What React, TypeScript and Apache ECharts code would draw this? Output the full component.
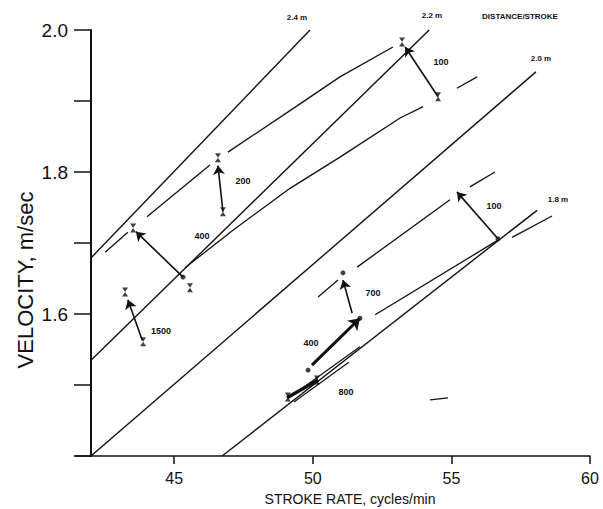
import React, { useEffect, useRef } from "react";
import * as echarts from "echarts";

type P = [number, number];

// axis ticks
const xTickValues = [45, 50, 55, 60];
const yLabelValues = ["1.6", "1.8", "2.0"];

// lines of constant distance per stroke
const iso24: P[] = [[42, 1.679], [49.9, 2.0]];
const iso22: P[] = [[42, 1.535], [54.2, 2.0]];
const iso20: P[] = [[42, 1.4], [58.05, 1.941]];
const iso18: P[] = [[46.73, 1.4], [58.09, 1.746]];

// upper group curves (segments, broken at markers)
const upperCurveA: P[][] = [
  [[42.51, 1.687], [43.33, 1.715]],
  [[44.02, 1.737], [46.29, 1.81]],
  [[46.94, 1.828], [49.54, 1.896], [50.98, 1.934], [52.89, 1.976]],
];
const upperCurveB: P[][] = [
  [[45.39, 1.665], [47.12, 1.718], [49.18, 1.777], [50.98, 1.821], [53.15, 1.876], [53.98, 1.892]],
  [[55.2, 1.918], [55.93, 1.934]],
];

// lower group curves
const lowerCurveA: P[][] = [
  [[50.19, 1.624], [50.91, 1.648]],
  [[51.6, 1.666], [54.95, 1.761]],
  [[55.67, 1.779], [56.57, 1.8]],
];
const lowerCurveB: P[][] = [
  [[52.25, 1.599], [56.68, 1.704]],
  [[57.19, 1.708], [58.63, 1.738]],
];
const lower800: P[][] = [
  [[49.18, 1.483], [51.7, 1.554]],
  [[49.32, 1.476], [51.3, 1.532]],
  [[54.23, 1.479], [54.88, 1.482]],
];
const lower800Thick: P[][] = [[[49.07, 1.482], [50.19, 1.507]]];

// arrows [from, to]
const upperArrows: P[][] = [
  [[45.32, 1.652], [43.62, 1.716]], // 400
  [[46.76, 1.744], [46.58, 1.809]], // 200
  [[54.52, 1.906], [53.33, 1.976]], // 100
  [[43.85, 1.563], [43.33, 1.62]], // 1500
];
const lowerArrows: P[][] = [
  [[51.42, 1.601], [51.09, 1.648]], // 700
  [[56.68, 1.706], [55.2, 1.772]], // 100
];
const lowerThickArrows: P[][] = [
  [[49.97, 1.528], [51.7, 1.594]], // 400
];

// markers
const crossMarkers: P[] = [
  [43.52, 1.721], [46.58, 1.82], [46.76, 1.744], [53.22, 1.983],
  [54.52, 1.906], [43.23, 1.631], [43.88, 1.561], [45.57, 1.637],
  [49.1, 1.483], [50.15, 1.507],
];
const dotMarkers: P[] = [
  [45.32, 1.652], [51.09, 1.658], [56.68, 1.706], [49.83, 1.521], [51.7, 1.594],
];

// annotations
const isoLabels = ["2.4 m", "2.2 m", "DISTANCE/STROKE", "2.0 m", "1.8 m"];
const eventLabels = ["100", "200", "400", "1500", "100", "700", "400", "800"];

const HOURGLASS = "path://M0,0L10,0L0,14L10,14Z";
const INK = "#111";

export default function App() {
  const ref = useRef<HTMLDivElement>(null);

  useEffect(() => {
    document.body.style.margin = "0";
    if (!ref.current) return;
    const chart = echarts.init(ref.current, undefined, { renderer: "svg" });

    const seg = (data: P[], width = 1.3) => ({
      type: "line",
      data,
      symbol: "none",
      showSymbol: false,
      silent: true,
      clip: false,
      lineStyle: { color: INK, width },
      z: 2,
    });

    const arrows = (list: P[][], width: number, size: number[]) => ({
      type: "lines",
      coordinateSystem: "cartesian2d",
      symbol: ["none", "arrow"],
      symbolSize: size,
      silent: true,
      lineStyle: { color: INK, width, opacity: 1 },
      data: list.map((c) => ({ coords: c })),
      z: 3,
    });

    const series: any[] = [
      seg(iso24, 1.4),
      seg(iso22, 1.4),
      seg(iso20, 1.4),
      seg(iso18, 1.4),
      ...upperCurveA.map((s) => seg(s)),
      ...upperCurveB.map((s) => seg(s)),
      ...lowerCurveA.map((s) => seg(s)),
      ...lowerCurveB.map((s) => seg(s)),
      ...lower800.map((s) => seg(s, 1.2)),
      ...lower800Thick.map((s) => seg(s, 3.5)),
      arrows(upperArrows, 1.6, [7, 9]),
      arrows(lowerArrows, 1.6, [7, 9]),
      arrows(lowerThickArrows, 3, [9, 11]),
      {
        type: "scatter",
        data: crossMarkers,
        symbol: HOURGLASS,
        symbolSize: [6, 9],
        itemStyle: { color: INK },
        silent: true,
        z: 4,
      },
      {
        type: "scatter",
        data: dotMarkers,
        symbol: "circle",
        symbolSize: 5,
        itemStyle: { color: INK },
        silent: true,
        z: 4,
      },
    ];

    const small = (text: string, x: number, y: number, size = 8) => ({
      type: "text",
      x,
      y,
      silent: true,
      style: {
        text,
        fill: INK,
        font: `bold ${size}px "Liberation Sans", sans-serif`,
        textAlign: "center",
        textVerticalAlign: "middle",
      },
    });

    const isoPos = [[297, 17], [432, 15], [520, 16], [541, 58], [558, 199]];
    const evPos = [[441, 62], [243, 181], [202, 236], [161, 331], [494, 206], [373, 293], [311, 343], [346, 392]];

    chart.setOption({
      animation: false,
      backgroundColor: "#fff",
      textStyle: { fontFamily: '"Liberation Sans", sans-serif', color: INK },
      grid: { left: 91, right: 13, top: 30, bottom: 53 },
      xAxis: {
        type: "value",
        min: 42,
        max: 60,
        interval: 1,
        splitLine: { show: false },
        axisLine: { lineStyle: { color: INK, width: 1.5 } },
        axisTick: { show: true, length: 8, customValues: xTickValues, lineStyle: { color: INK, width: 1.5 } },
        axisLabel: { customValues: xTickValues, fontSize: 16, color: INK, margin: 14 },
      },
      yAxis: {
        type: "value",
        min: 1.4,
        max: 2.0,
        interval: 0.1,
        splitLine: { show: false },
        axisLine: { show: true, lineStyle: { color: INK, width: 2 } },
        axisTick: { show: true, length: 17, lineStyle: { color: INK, width: 1.5 } },
        axisLabel: {
          fontSize: 19,
          color: INK,
          margin: 23,
          formatter: (v: number) => {
            const s = v.toFixed(1);
            return yLabelValues.includes(s) ? s : "";
          },
        },
      },
      graphic: [
        { type: "line", silent: true, shape: { x1: 75, y1: 456, x2: 92, y2: 456 }, style: { stroke: INK, lineWidth: 1.5 } },
        ...isoLabels.map((t, i) => small(t, isoPos[i][0], isoPos[i][1], i === 2 ? 8 : 8)),
        ...eventLabels.map((t, i) => small(t, evPos[i][0], evPos[i][1], 9)),
        {
          type: "text",
          x: 350,
          y: 499,
          silent: true,
          style: {
            text: "STROKE RATE, cycles/min",
            fill: INK,
            font: '14px "Liberation Sans", sans-serif',
            textAlign: "center",
            textVerticalAlign: "middle",
          },
        },
        {
          type: "text",
          x: 25,
          y: 280,
          rotation: Math.PI / 2,
          silent: true,
          style: {
            text: "VELOCITY, m/sec",
            fill: INK,
            font: '22px "Liberation Sans", sans-serif',
            textAlign: "center",
            textVerticalAlign: "middle",
          },
        },
      ],
      series,
    });

    return () => chart.dispose();
  }, []);

  return (
    <div
      ref={ref}
      style={{ position: "absolute", left: 0, top: 0, width: 603, height: 509, background: "#fff" }}
    />
  );
}
